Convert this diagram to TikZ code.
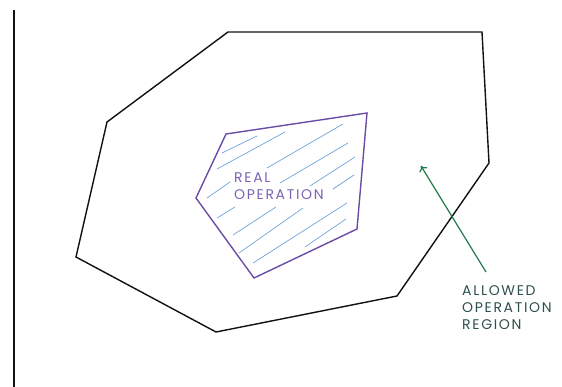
\documentclass[tikz,border=0pt]{standalone}
\usepackage{fontspec}
\setmainfont{Poppins}[LetterSpace=12]
\usetikzlibrary{arrows.meta}
\definecolor{outline}{HTML}{111111}
\definecolor{realc}{HTML}{6A4CA6}
\definecolor{realtext}{HTML}{7B63B3}
\definecolor{hatchc}{HTML}{6FA3DA}
\definecolor{arrowc}{HTML}{1E7B4A}
\definecolor{labelc}{HTML}{2F4F4A}
\tikzset{
  outerpoly/.style={draw=outline, line width=1.4pt, line join=miter},
  innerpoly/.style={draw=realc, line width=1.4pt, line join=miter},
  hatchline/.style={draw=hatchc, line width=0.7pt},
  pointer/.style={draw=arrowc, line width=1.2pt, -{To[length=5pt,width=9pt]}},
  lbl/.style={inner sep=0pt, anchor=north west, align=left, font=\fontsize{14}{17}\selectfont},
}
\begin{document}
\begin{tikzpicture}[x=1pt,y=-1pt]
\useasboundingbox (0,0) rectangle (562,387);
% left vertical line
\coordinate (L1) at (14,10);
\coordinate (L2) at (14,387);
\draw[outline, line width=1.4pt] (L1) -- (L2);
% outer polygon
\coordinate (o1) at (228,32);
\coordinate (o2) at (482,32);
\coordinate (o3) at (489,163);
\coordinate (o4) at (397,296);
\coordinate (o5) at (216,332);
\coordinate (o6) at (76,257);
\coordinate (o7) at (107,122);
\draw[outerpoly] (o1) -- (o2) -- (o3) -- (o4) -- (o5) -- (o6) -- (o7) -- cycle;
% hatch lines
\foreach \a/\b/\c/\d in {222/153/257/136, 217/169/285/132, 267/168/343/124,
  280/183/348/143, 310/186/355/157, 333/189/354/175, 207/198/230/182,
  217/218/235/207, 233/235/276/207, 239/253/303/208, 253/263/347/203,
  305/247/346/219}
  \draw[hatchline] (\a,\b) -- (\c,\d);
% inner polygon
\coordinate (i1) at (226,134);
\coordinate (i2) at (367,113);
\coordinate (i3) at (357,229);
\coordinate (i4) at (254,278);
\coordinate (i5) at (196,198);
\draw[innerpoly] (i1) -- (i2) -- (i3) -- (i4) -- (i5) -- cycle;
% labels
\node[lbl, text=realtext] (real) at (234,173) {REAL\\OPERATION};
\node[lbl, text=labelc] (allowed) at (462,285) {ALLOWED\\OPERATION\\REGION};
% arrow
\coordinate (aS) at (486,272);
\coordinate (aE) at (421,166);
\draw[pointer] (aS) -- (aE);
\end{tikzpicture}
\end{document}
